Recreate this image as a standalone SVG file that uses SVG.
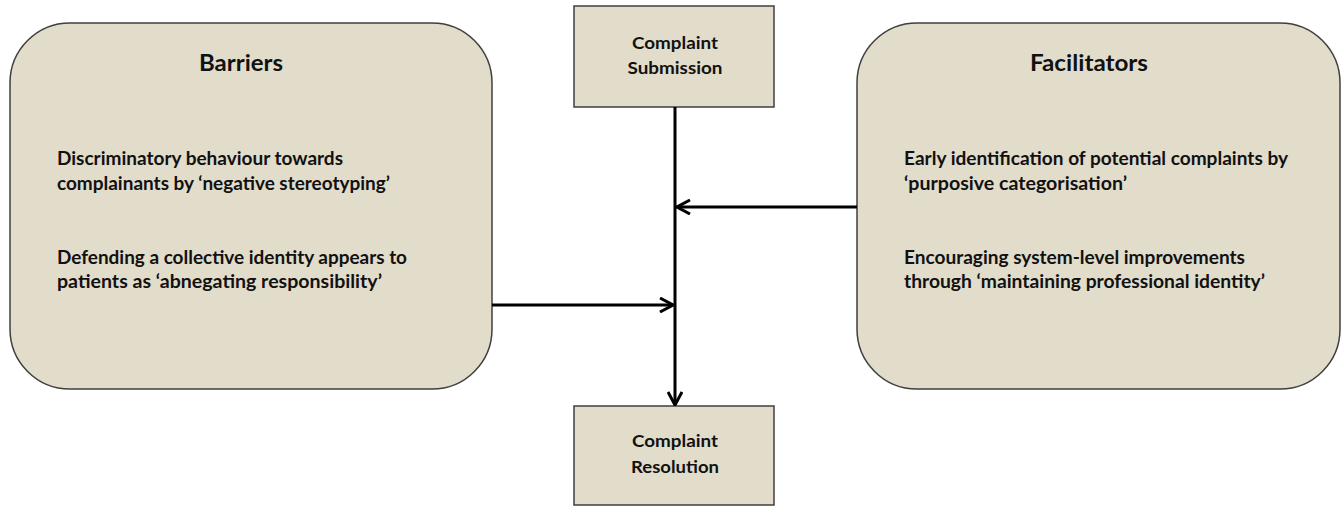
<svg xmlns="http://www.w3.org/2000/svg" width="1341" height="506" viewBox="0 0 1341 506">
<style>
.box{fill:#e2dccb;stroke:#3f3f3f;stroke-width:1.5}
.t{font-family:Lato,"Open Sans","Liberation Sans",sans-serif;font-weight:bold;fill:#111}
.body{font-size:18.5px}
.title{font-size:22px}
.small{font-size:17.5px}
.conn{stroke:#000;stroke-width:3;fill:none}
</style>
<defs>
<marker id="arr" viewBox="0 0 16 16" refX="15" refY="8" markerWidth="16" markerHeight="16" markerUnits="userSpaceOnUse" orient="auto">
<path d="M2,1 L15,8 L2,15" fill="none" stroke="#000" stroke-width="3"/>
</marker>
</defs>
<rect width="1341" height="506" fill="#fff"/>
<g id="barriers">
<rect class="box" x="10" y="23" width="482" height="366" rx="60" ry="60"/>
<text class="t title" x="241" y="71" text-anchor="middle" textLength="84" lengthAdjust="spacingAndGlyphs">Barriers</text>
<text class="t body" x="57" y="165" textLength="286" lengthAdjust="spacingAndGlyphs">Discriminatory behaviour towards</text>
<text class="t body" x="57" y="190" textLength="333" lengthAdjust="spacingAndGlyphs">complainants by ‘negative stereotyping’</text>
<text class="t body" x="57" y="264" textLength="350" lengthAdjust="spacingAndGlyphs">Defending a collective identity appears to</text>
<text class="t body" x="57" y="288" textLength="325" lengthAdjust="spacingAndGlyphs">patients as ‘abnegating responsibility’</text>
</g>
<g id="facilitators">
<rect class="box" x="857" y="23" width="483" height="366" rx="60" ry="60"/>
<text class="t title" x="1089" y="71" text-anchor="middle" textLength="118" lengthAdjust="spacingAndGlyphs">Facilitators</text>
<text class="t body" x="904" y="165" textLength="384" lengthAdjust="spacingAndGlyphs">Early identification of potential complaints by</text>
<text class="t body" x="904" y="190" textLength="223" lengthAdjust="spacingAndGlyphs">‘purposive categorisation’</text>
<text class="t body" x="904" y="264" textLength="341" lengthAdjust="spacingAndGlyphs">Encouraging system-level improvements</text>
<text class="t body" x="904" y="288" textLength="361" lengthAdjust="spacingAndGlyphs">through ‘maintaining professional identity’</text>
</g>
<g id="submission">
<rect class="box" x="574" y="6" width="200" height="101"/>
<text class="t small" x="675" y="49" text-anchor="middle" textLength="86" lengthAdjust="spacingAndGlyphs">Complaint</text>
<text class="t small" x="675" y="74" text-anchor="middle" textLength="95" lengthAdjust="spacingAndGlyphs">Submission</text>
</g>
<g id="resolution">
<rect class="box" x="574" y="406" width="200" height="99"/>
<text class="t small" x="675" y="447" text-anchor="middle" textLength="86" lengthAdjust="spacingAndGlyphs">Complaint</text>
<text class="t small" x="675" y="473" text-anchor="middle" textLength="88" lengthAdjust="spacingAndGlyphs">Resolution</text>
</g>
<g id="connectors">
<path class="conn" d="M675,107 L675,405" marker-end="url(#arr)"/>
<path class="conn" d="M857,207 L677,207" marker-end="url(#arr)"/>
<path class="conn" d="M492,305 L673,305" marker-end="url(#arr)"/>
</g>
</svg>
